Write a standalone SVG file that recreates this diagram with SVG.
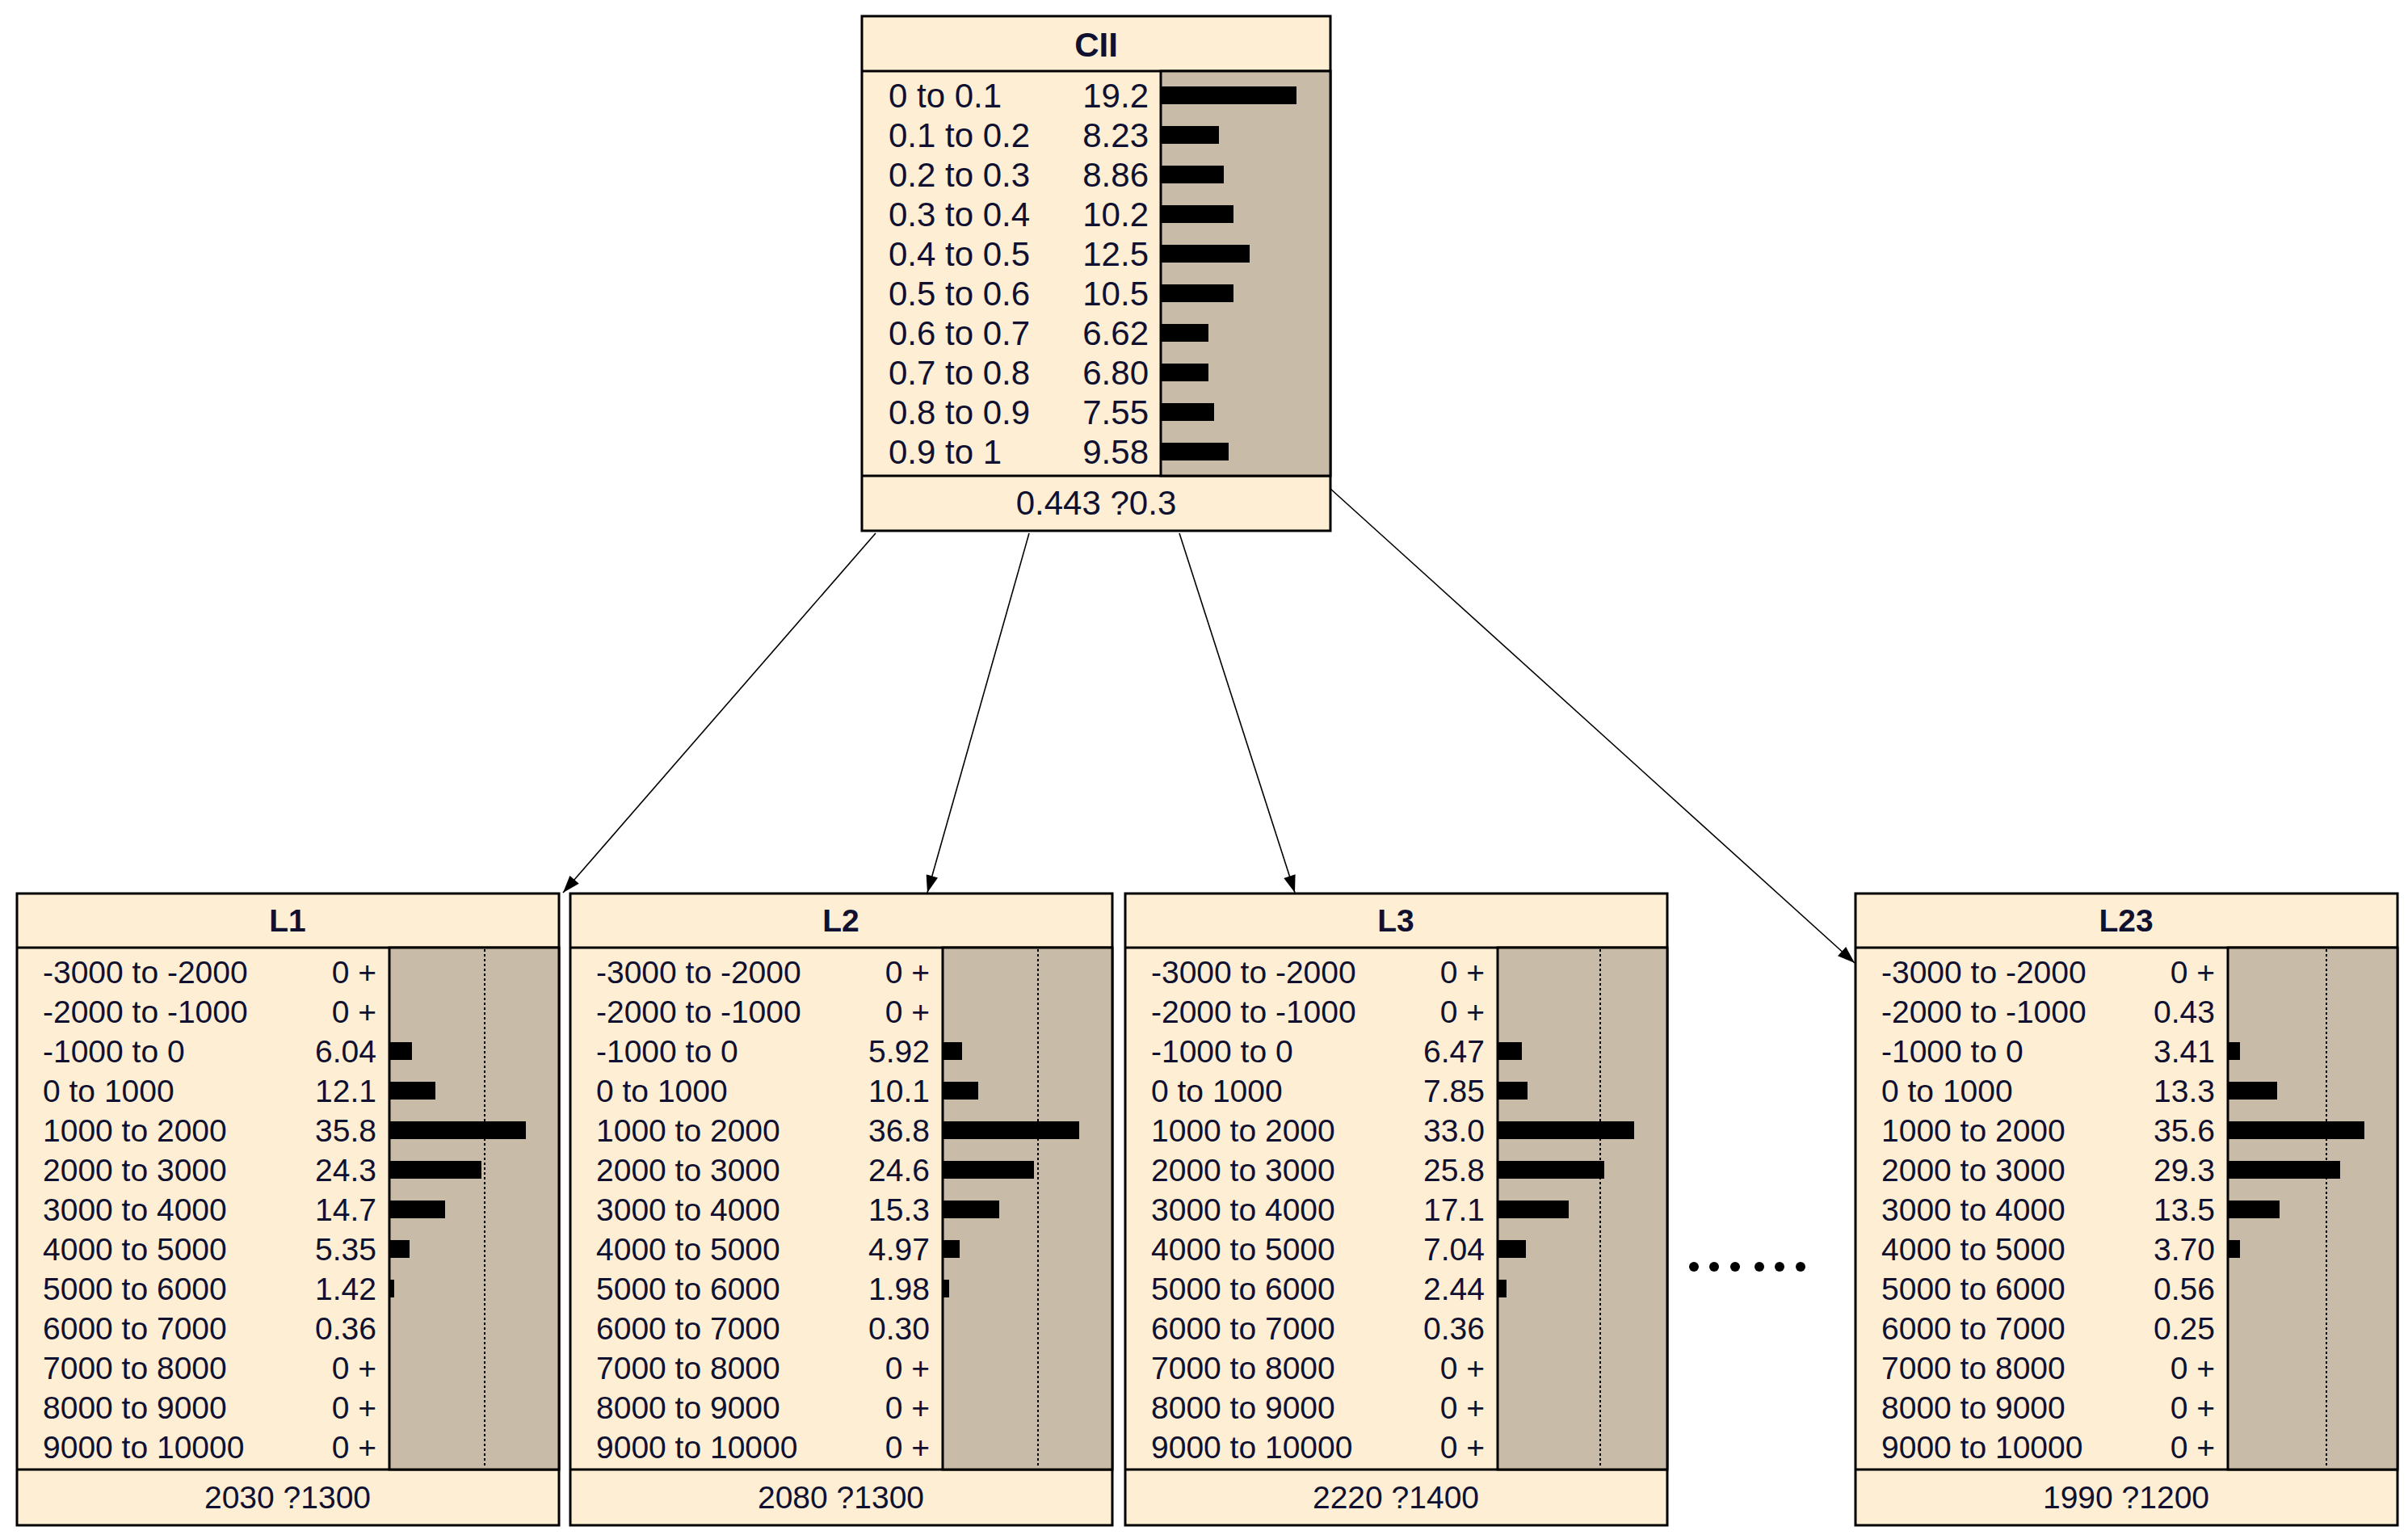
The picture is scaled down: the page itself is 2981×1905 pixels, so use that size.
<svg xmlns="http://www.w3.org/2000/svg" width="2981" height="1905" viewBox="0 0 2981 1905">
<style>
.box{fill:#FDEED4;stroke:#000;stroke-width:3}
.bars{fill:#C8BCA8;stroke:#000;stroke-width:3}
.bar{fill:#000}
.dot{stroke:#000;stroke-width:2;stroke-dasharray:3 3}
.t{font-family:"Liberation Sans",Arial,sans-serif;fill:#101030}
.ti{font-weight:bold;text-anchor:middle}
.c{text-anchor:middle}
.e{text-anchor:end}
.big{font-size:42px}
.sm{font-size:39px}
.con{stroke:#000;stroke-width:1.6;fill:none;marker-end:url(#ah)}
</style>
<defs>
<marker id="ah" viewBox="0 0 20 14" refX="20" refY="7" markerWidth="22" markerHeight="15" markerUnits="userSpaceOnUse" orient="auto"><path d="M0,0 L20,7 L0,14 Z" fill="#000"/></marker>
</defs>
<rect width="2981" height="1905" fill="#fff"/>
<g id="connectors">
<line class="con" x1="1084" y1="660" x2="697" y2="1105"/>
<line class="con" x1="1274" y1="660" x2="1148" y2="1105"/>
<line class="con" x1="1460" y1="660" x2="1603" y2="1105"/>
<line class="con" x1="1647" y1="605" x2="2296" y2="1192"/>
</g>
<g id="CII">
<rect class="box" x="1067" y="20" width="580" height="637"/>
<line x1="1067" y1="88" x2="1647" y2="88" stroke="#000" stroke-width="3"/>
<line x1="1067" y1="589" x2="1647" y2="589" stroke="#000" stroke-width="3"/>
<rect class="bars" x="1437" y="88" width="210" height="501"/>
<text class="t ti big" x="1357" y="70">CII</text>
<g class="t big">
<text x="1100" y="133">0 to 0.1</text><text x="1100" y="182">0.1 to 0.2</text><text x="1100" y="231">0.2 to 0.3</text><text x="1100" y="280">0.3 to 0.4</text><text x="1100" y="329">0.4 to 0.5</text><text x="1100" y="378">0.5 to 0.6</text><text x="1100" y="427">0.6 to 0.7</text><text x="1100" y="476">0.7 to 0.8</text><text x="1100" y="525">0.8 to 0.9</text><text x="1100" y="574">0.9 to 1</text>
</g>
<g class="t big e">
<text x="1422" y="133">19.2</text><text x="1422" y="182">8.23</text><text x="1422" y="231">8.86</text><text x="1422" y="280">10.2</text><text x="1422" y="329">12.5</text><text x="1422" y="378">10.5</text><text x="1422" y="427">6.62</text><text x="1422" y="476">6.80</text><text x="1422" y="525">7.55</text><text x="1422" y="574">9.58</text>
</g>
<g class="bar">
<rect x="1438" y="107" width="167" height="22"/><rect x="1438" y="156" width="71" height="22"/><rect x="1438" y="205" width="77" height="22"/><rect x="1438" y="254" width="89" height="22"/><rect x="1438" y="303" width="109" height="22"/><rect x="1438" y="352" width="89" height="22"/><rect x="1438" y="401" width="58" height="22"/><rect x="1438" y="450" width="58" height="22"/><rect x="1438" y="499" width="65" height="22"/><rect x="1438" y="548" width="83" height="22"/>
</g>
<text class="t c big" x="1357" y="637">0.443 ?0.3</text>
</g>
<g id="L1" transform="translate(21,0)">
<rect class="box" x="0" y="1106" width="671" height="782"/>
<line x1="0" y1="1173" x2="671" y2="1173" stroke="#000" stroke-width="3"/>
<line x1="0" y1="1819" x2="671" y2="1819" stroke="#000" stroke-width="3"/>
<rect class="bars" x="461" y="1173" width="210" height="646"/>
<line class="dot" x1="579" y1="1175" x2="579" y2="1817"/>
<text class="t ti sm" x="335" y="1153">L1</text>
<g class="t sm">
<text x="32" y="1217">-3000 to -2000</text><text x="32" y="1266">-2000 to -1000</text><text x="32" y="1315">-1000 to 0</text><text x="32" y="1364">0 to 1000</text><text x="32" y="1413">1000 to 2000</text><text x="32" y="1462">2000 to 3000</text><text x="32" y="1511">3000 to 4000</text><text x="32" y="1560">4000 to 5000</text><text x="32" y="1609">5000 to 6000</text><text x="32" y="1658">6000 to 7000</text><text x="32" y="1707">7000 to 8000</text><text x="32" y="1756">8000 to 9000</text><text x="32" y="1805">9000 to 10000</text>
</g>
<g class="t sm e">
<text x="445" y="1217">0 +</text><text x="445" y="1266">0 +</text><text x="445" y="1315">6.04</text><text x="445" y="1364">12.1</text><text x="445" y="1413">35.8</text><text x="445" y="1462">24.3</text><text x="445" y="1511">14.7</text><text x="445" y="1560">5.35</text><text x="445" y="1609">1.42</text><text x="445" y="1658">0.36</text><text x="445" y="1707">0 +</text><text x="445" y="1756">0 +</text><text x="445" y="1805">0 +</text>
</g>
<g class="bar">
<rect x="462" y="1290" width="27" height="22"/><rect x="462" y="1339" width="56" height="22"/><rect x="462" y="1388" width="168" height="22"/><rect x="462" y="1437" width="113" height="22"/><rect x="462" y="1486" width="68" height="22"/><rect x="462" y="1535" width="24" height="22"/><rect x="462" y="1584" width="5" height="22"/>
</g>
<text class="t c sm" x="335" y="1867">2030 ?1300</text>
</g>
<g id="L2" transform="translate(706,0)">
<rect class="box" x="0" y="1106" width="671" height="782"/>
<line x1="0" y1="1173" x2="671" y2="1173" stroke="#000" stroke-width="3"/>
<line x1="0" y1="1819" x2="671" y2="1819" stroke="#000" stroke-width="3"/>
<rect class="bars" x="461" y="1173" width="210" height="646"/>
<line class="dot" x1="579" y1="1175" x2="579" y2="1817"/>
<text class="t ti sm" x="335" y="1153">L2</text>
<g class="t sm">
<text x="32" y="1217">-3000 to -2000</text><text x="32" y="1266">-2000 to -1000</text><text x="32" y="1315">-1000 to 0</text><text x="32" y="1364">0 to 1000</text><text x="32" y="1413">1000 to 2000</text><text x="32" y="1462">2000 to 3000</text><text x="32" y="1511">3000 to 4000</text><text x="32" y="1560">4000 to 5000</text><text x="32" y="1609">5000 to 6000</text><text x="32" y="1658">6000 to 7000</text><text x="32" y="1707">7000 to 8000</text><text x="32" y="1756">8000 to 9000</text><text x="32" y="1805">9000 to 10000</text>
</g>
<g class="t sm e">
<text x="445" y="1217">0 +</text><text x="445" y="1266">0 +</text><text x="445" y="1315">5.92</text><text x="445" y="1364">10.1</text><text x="445" y="1413">36.8</text><text x="445" y="1462">24.6</text><text x="445" y="1511">15.3</text><text x="445" y="1560">4.97</text><text x="445" y="1609">1.98</text><text x="445" y="1658">0.30</text><text x="445" y="1707">0 +</text><text x="445" y="1756">0 +</text><text x="445" y="1805">0 +</text>
</g>
<g class="bar">
<rect x="462" y="1290" width="23" height="22"/><rect x="462" y="1339" width="43" height="22"/><rect x="462" y="1388" width="168" height="22"/><rect x="462" y="1437" width="112" height="22"/><rect x="462" y="1486" width="69" height="22"/><rect x="462" y="1535" width="20" height="22"/><rect x="462" y="1584" width="7" height="22"/>
</g>
<text class="t c sm" x="335" y="1867">2080 ?1300</text>
</g>
<g id="L3" transform="translate(1393,0)">
<rect class="box" x="0" y="1106" width="671" height="782"/>
<line x1="0" y1="1173" x2="671" y2="1173" stroke="#000" stroke-width="3"/>
<line x1="0" y1="1819" x2="671" y2="1819" stroke="#000" stroke-width="3"/>
<rect class="bars" x="461" y="1173" width="210" height="646"/>
<line class="dot" x1="588" y1="1175" x2="588" y2="1817"/>
<text class="t ti sm" x="335" y="1153">L3</text>
<g class="t sm">
<text x="32" y="1217">-3000 to -2000</text><text x="32" y="1266">-2000 to -1000</text><text x="32" y="1315">-1000 to 0</text><text x="32" y="1364">0 to 1000</text><text x="32" y="1413">1000 to 2000</text><text x="32" y="1462">2000 to 3000</text><text x="32" y="1511">3000 to 4000</text><text x="32" y="1560">4000 to 5000</text><text x="32" y="1609">5000 to 6000</text><text x="32" y="1658">6000 to 7000</text><text x="32" y="1707">7000 to 8000</text><text x="32" y="1756">8000 to 9000</text><text x="32" y="1805">9000 to 10000</text>
</g>
<g class="t sm e">
<text x="445" y="1217">0 +</text><text x="445" y="1266">0 +</text><text x="445" y="1315">6.47</text><text x="445" y="1364">7.85</text><text x="445" y="1413">33.0</text><text x="445" y="1462">25.8</text><text x="445" y="1511">17.1</text><text x="445" y="1560">7.04</text><text x="445" y="1609">2.44</text><text x="445" y="1658">0.36</text><text x="445" y="1707">0 +</text><text x="445" y="1756">0 +</text><text x="445" y="1805">0 +</text>
</g>
<g class="bar">
<rect x="462" y="1290" width="29" height="22"/><rect x="462" y="1339" width="36" height="22"/><rect x="462" y="1388" width="168" height="22"/><rect x="462" y="1437" width="131" height="22"/><rect x="462" y="1486" width="87" height="22"/><rect x="462" y="1535" width="34" height="22"/><rect x="462" y="1584" width="10" height="22"/>
</g>
<text class="t c sm" x="335" y="1867">2220 ?1400</text>
</g>
<g id="dots" fill="#000">
<circle cx="2097" cy="1568" r="6"/><circle cx="2122" cy="1568" r="6"/><circle cx="2148" cy="1568" r="6"/><circle cx="2178" cy="1568" r="6"/><circle cx="2203" cy="1568" r="6"/><circle cx="2229" cy="1568" r="6"/>
</g>
<g id="L23" transform="translate(2297,0)">
<rect class="box" x="0" y="1106" width="671" height="782"/>
<line x1="0" y1="1173" x2="671" y2="1173" stroke="#000" stroke-width="3"/>
<line x1="0" y1="1819" x2="671" y2="1819" stroke="#000" stroke-width="3"/>
<rect class="bars" x="461" y="1173" width="210" height="646"/>
<line class="dot" x1="583" y1="1175" x2="583" y2="1817"/>
<text class="t ti sm" x="335" y="1153">L23</text>
<g class="t sm">
<text x="32" y="1217">-3000 to -2000</text><text x="32" y="1266">-2000 to -1000</text><text x="32" y="1315">-1000 to 0</text><text x="32" y="1364">0 to 1000</text><text x="32" y="1413">1000 to 2000</text><text x="32" y="1462">2000 to 3000</text><text x="32" y="1511">3000 to 4000</text><text x="32" y="1560">4000 to 5000</text><text x="32" y="1609">5000 to 6000</text><text x="32" y="1658">6000 to 7000</text><text x="32" y="1707">7000 to 8000</text><text x="32" y="1756">8000 to 9000</text><text x="32" y="1805">9000 to 10000</text>
</g>
<g class="t sm e">
<text x="445" y="1217">0 +</text><text x="445" y="1266">0.43</text><text x="445" y="1315">3.41</text><text x="445" y="1364">13.3</text><text x="445" y="1413">35.6</text><text x="445" y="1462">29.3</text><text x="445" y="1511">13.5</text><text x="445" y="1560">3.70</text><text x="445" y="1609">0.56</text><text x="445" y="1658">0.25</text><text x="445" y="1707">0 +</text><text x="445" y="1756">0 +</text><text x="445" y="1805">0 +</text>
</g>
<g class="bar">
<rect x="462" y="1290" width="14" height="22"/><rect x="462" y="1339" width="60" height="22"/><rect x="462" y="1388" width="168" height="22"/><rect x="462" y="1437" width="138" height="22"/><rect x="462" y="1486" width="63" height="22"/><rect x="462" y="1535" width="14" height="22"/>
</g>
<text class="t c sm" x="335" y="1867">1990 ?1200</text>
</g>
</svg>
